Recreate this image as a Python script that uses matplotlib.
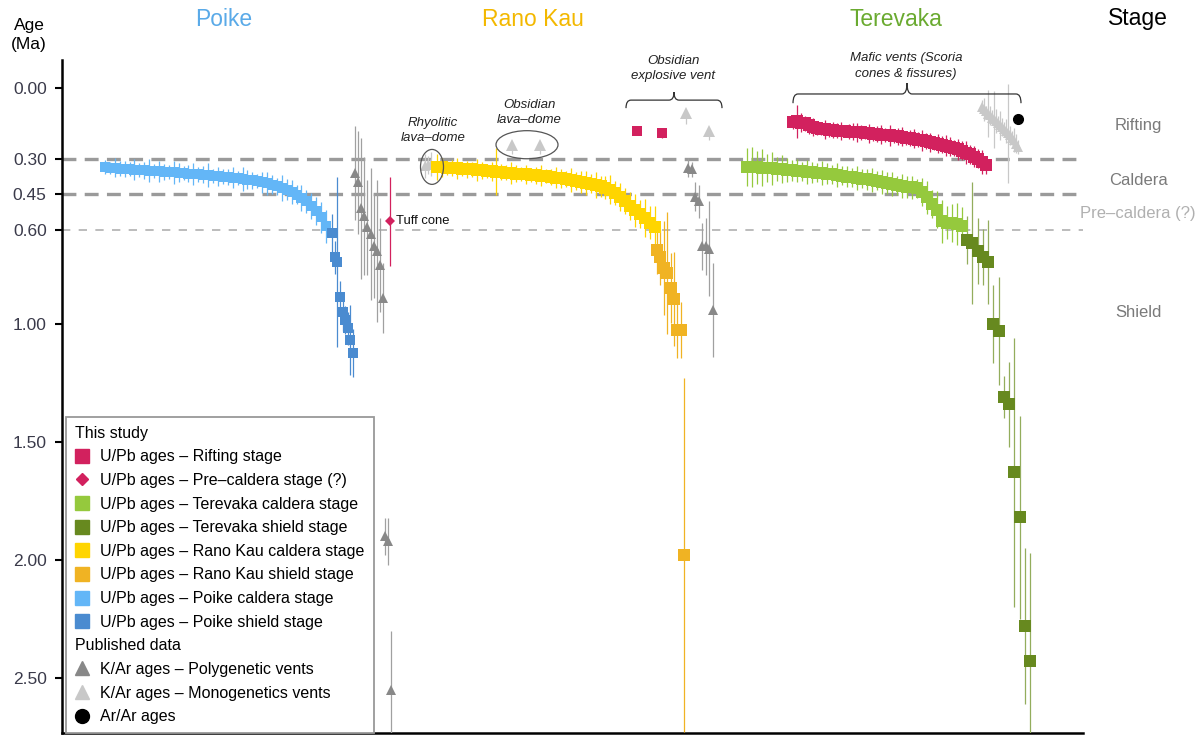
import numpy as np
import matplotlib
matplotlib.use("Agg")
import matplotlib.pyplot as plt
from matplotlib.lines import Line2D
from matplotlib.patches import Ellipse, PathPatch
from matplotlib.path import Path

plt.rcParams['font.family'] = ['Liberation Sans', 'DejaVu Sans']
plt.rcParams['lines.scale_dashes'] = False

# colours
c_rift = '#d2215e'
c_tere_cal = '#95c93d'
c_tere_sh = '#67891f'
c_rano_cal = '#ffd500'
c_rano_sh = '#f0b323'
c_poike_cal = '#63b6f7'
c_poike_sh = '#4a8bd0'
c_poly = '#888888'
c_mono = '#c8c8c8'

# ---- data (ages in Ma, errors in Ma) ----
poike_cal_age = [0.335, 0.338, 0.337, 0.341, 0.343, 0.342, 0.346, 0.347, 0.349, 0.350,
                 0.352, 0.353, 0.355, 0.356, 0.357, 0.359, 0.361, 0.362, 0.364, 0.366,
                 0.367, 0.369, 0.371, 0.373, 0.375, 0.377, 0.380, 0.382, 0.385, 0.388,
                 0.391, 0.395, 0.399, 0.404, 0.410, 0.416, 0.423, 0.431, 0.440, 0.451,
                 0.464, 0.480, 0.498, 0.520, 0.548, 0.585]
poike_cal_err = [0.03, 0.025, 0.04, 0.03, 0.035, 0.03, 0.045, 0.03, 0.035, 0.05,
                 0.03, 0.045, 0.035, 0.03, 0.05, 0.04, 0.03, 0.035, 0.045, 0.03,
                 0.035, 0.05, 0.03, 0.04, 0.03, 0.035, 0.045, 0.03, 0.05, 0.04,
                 0.035, 0.03, 0.045, 0.05, 0.04, 0.035, 0.055, 0.045, 0.05, 0.04,
                 0.055, 0.05, 0.055, 0.06, 0.065, 0.07]
poike_sh_age = [0.614, 0.716, 0.737, 0.886, 0.949, 0.983, 1.017, 1.068, 1.123]
poike_sh_err = [0.08, 0.07, 0.36, 0.07, 0.08, 0.06, 0.07, 0.15, 0.10]

poly_a_age = [0.36, 0.40, 0.51, 0.54, 0.59, 0.62, 0.67, 0.69, 0.75, 0.89]
poly_a_err = [0.20, 0.22, 0.30, 0.25, 0.20, 0.28, 0.22, 0.30, 0.20, 0.15]
poly_low_age = [1.90, 1.92, 2.55]
poly_low_err = [0.08, 0.10, 0.25]
precal_age = [0.565]
precal_err = [0.19]

rhyo_age = [0.330, 0.326, 0.322]
rhyo_err = [0.05, 0.04, 0.05]

rano_cal_age = [0.334, 0.336, 0.337, 0.339, 0.340, 0.342, 0.344, 0.345, 0.347, 0.349,
                0.350, 0.352, 0.354, 0.356, 0.358, 0.360, 0.362, 0.364, 0.366, 0.368,
                0.370, 0.372, 0.374, 0.377, 0.380, 0.383, 0.386, 0.390, 0.394, 0.398,
                0.402, 0.406, 0.411, 0.416, 0.422, 0.430, 0.445, 0.462, 0.480, 0.500,
                0.518, 0.535, 0.552, 0.570, 0.590]
rano_cal_err = [0.055, 0.04, 0.03, 0.035, 0.045, 0.03, 0.035, 0.03, 0.045, 0.035,
                0.03, 0.04, 0.10, 0.035, 0.03, 0.045, 0.035, 0.03, 0.04, 0.03,
                0.035, 0.045, 0.03, 0.035, 0.045, 0.04, 0.035, 0.05, 0.04, 0.045,
                0.05, 0.04, 0.055, 0.045, 0.05, 0.06, 0.05, 0.06, 0.055, 0.06,
                0.07, 0.06, 0.08, 0.07, 0.09]
rano_sh_age = [0.686, 0.716, 0.763, 0.784, 0.847, 0.894, 1.025, 1.025, 1.98]
rano_sh_err = [0.10, 0.12, 0.20, 0.26, 0.15, 0.20, 0.12, 0.12, 0.75]

poly_b_age = [0.337, 0.345, 0.46, 0.48, 0.67, 0.67, 0.68, 0.94]
poly_b_err = [0.04, 0.03, 0.06, 0.07, 0.10, 0.12, 0.20, 0.20]

obs_rift_age = [0.182, 0.190]
obs_rift_err = [0.01, 0.02]
obs_mono_age = [0.24, 0.24, 0.106, 0.182]
obs_mono_err = [0.04, 0.04, 0.047, 0.04]

tere_cal_age = [0.333, 0.334, 0.336, 0.337, 0.338, 0.340, 0.342, 0.344, 0.346, 0.348,
                0.350, 0.352, 0.355, 0.357, 0.359, 0.361, 0.363, 0.366, 0.368, 0.372,
                0.375, 0.378, 0.381, 0.384, 0.387, 0.390, 0.393, 0.397, 0.402, 0.407,
                0.412, 0.416, 0.419, 0.421, 0.424, 0.440, 0.462, 0.490, 0.515, 0.565,
                0.570, 0.573, 0.576, 0.584]
tere_cal_err = [0.08, 0.085, 0.07, 0.08, 0.06, 0.07, 0.05, 0.06, 0.05, 0.045,
                0.05, 0.04, 0.05, 0.045, 0.04, 0.05, 0.045, 0.04, 0.05, 0.04,
                0.045, 0.04, 0.05, 0.04, 0.045, 0.05, 0.04, 0.05, 0.045, 0.05,
                0.04, 0.05, 0.045, 0.05, 0.04, 0.06, 0.07, 0.06, 0.08, 0.09,
                0.07, 0.08, 0.09, 0.08]
tere_sh_age = [0.644, 0.657, 0.690, 0.716, 0.737, 1.00, 1.03, 1.31, 1.34, 1.627, 1.818, 2.28, 2.43]
tere_sh_err = [0.10, 0.26, 0.14, 0.12, 0.18, 0.165, 0.23, 0.09, 0.18, 0.57, 0.43, 0.33, 0.46]

rift_age = [0.144, 0.140, 0.146, 0.150, 0.158, 0.165, 0.168, 0.172, 0.175, 0.178,
            0.178, 0.180, 0.182, 0.183, 0.184, 0.185, 0.187, 0.188, 0.190, 0.191,
            0.193, 0.195, 0.197, 0.199, 0.200, 0.202, 0.205, 0.207, 0.210, 0.212,
            0.215, 0.218, 0.221, 0.225, 0.229, 0.232, 0.236, 0.240, 0.244, 0.249,
            0.254, 0.260, 0.266, 0.273, 0.281, 0.290, 0.300, 0.312, 0.326]
rift_err = [0.03, 0.07, 0.04, 0.03, 0.035, 0.04, 0.03, 0.025, 0.04, 0.03,
            0.035, 0.03, 0.04, 0.025, 0.03, 0.035, 0.04, 0.03, 0.025, 0.04,
            0.03, 0.035, 0.04, 0.03, 0.045, 0.03, 0.035, 0.04, 0.03, 0.035,
            0.04, 0.03, 0.045, 0.035, 0.04, 0.03, 0.04, 0.035, 0.045, 0.04,
            0.035, 0.045, 0.04, 0.05, 0.04, 0.045, 0.04, 0.05, 0.04]

mono_t_age = [0.080, 0.090, 0.098, 0.108, 0.115, 0.125, 0.132, 0.140, 0.150, 0.158,
              0.165, 0.175, 0.183, 0.192, 0.200, 0.210, 0.220, 0.235, 0.250]
mono_t_err = [0.03, 0.05, 0.02, 0.10, 0.04, 0.03, 0.12, 0.05, 0.03, 0.06,
              0.04, 0.03, 0.05, 0.21, 0.04, 0.03, 0.05, 0.04, 0.03]
arar_age = [0.131]

stage_ticks = [0.00, 0.30, 0.45, 0.60, 1.00, 1.50, 2.00, 2.50]
stage_names = ['Rifting', 'Caldera', 'Pre–caldera (?)', 'Shield']
stage_pos = [0.157, 0.39, 0.53, 0.95]

# ---- figure ----
fig = plt.figure(figsize=(11.98, 7.36), dpi=100)
ax = fig.add_axes([62 / 1198, 3 / 736, 1021 / 1198, 673 / 736])
ax.set_xlim(62, 1083)
ax.set_ylim(2.733, -0.119)


def pos(x0, x1, vals):
    return np.linspace(x0, x1, len(vals))


def series(x, y, err, color, marker, ms, ecolor=None, z=3, cap=1.8):
    ax.errorbar(x, y, yerr=err, fmt=marker, color=color, ms=ms, mec=color, mew=0,
                ecolor=ecolor or color, elinewidth=0.9, capsize=cap, capthick=0.9,
                zorder=z)


# stage boundaries
ax.axhline(0.30, color='#9a9a9a', lw=2.4, dashes=(10, 6), zorder=1)
ax.axhline(0.45, color='#9a9a9a', lw=2.4, dashes=(10, 6), zorder=1)
ax.axhline(0.60, color='#aaaaaa', lw=1.1, dashes=(6.0, 6.0), zorder=1)

# Poike
series(pos(105, 326, poike_cal_age), poike_cal_age, poike_cal_err, c_poike_cal, 's', 7.5)
series(pos(332, 353, poike_sh_age), poike_sh_age, poike_sh_err, c_poike_sh, 's', 7.5)
series(pos(355, 383, poly_a_age), poly_a_age, poly_a_err, c_poly, '^', 7.5, ecolor='#a0a0a0')
series(pos(385, 391, poly_low_age), poly_low_age, poly_low_err, c_poly, '^', 7.5, ecolor='#a0a0a0')
series([390], precal_age, precal_err, c_rift, 'D', 5)

# Rano Kau
series(pos(425, 431, rhyo_age), rhyo_age, rhyo_err, c_mono, '^', 7)
series(pos(437, 655, rano_cal_age), rano_cal_age, rano_cal_err, c_rano_cal, 's', 8)
series(pos(657, 684, rano_sh_age), rano_sh_age, rano_sh_err, c_rano_sh, 's', 8)
series(pos(688, 713, poly_b_age), poly_b_age, poly_b_err, c_poly, '^', 7.5, ecolor='#a0a0a0')
series(pos(637, 662, obs_rift_age), obs_rift_age, obs_rift_err, c_rift, 's', 7.5)
ax.errorbar([512, 540, 686, 709], obs_mono_age, yerr=[[0] * 4, obs_mono_err], fmt='^',
            color=c_mono, ms=8, mew=0, ecolor=c_mono, elinewidth=0.9, capsize=10,
            capthick=1.0, zorder=3)

# Terevaka
series(pos(747, 962, tere_cal_age), tere_cal_age, tere_cal_err, c_tere_cal, 's', 9, cap=2.5)
series(pos(967, 1030, tere_sh_age), tere_sh_age, tere_sh_err, c_tere_sh, 's', 8.5,
       ecolor='#93ad5c', cap=2.5)
series(pos(793, 986, rift_age), rift_age, rift_err, c_rift, 's', 8.5, cap=1.2)
series(pos(982, 1018, mono_t_age), mono_t_age, mono_t_err, c_mono, '^', 7, cap=1.2)
ax.plot([1018], arar_age, 'o', color='black', ms=7, zorder=4)

# ellipses around lava domes
ax.add_patch(Ellipse((432, 0.334), 23, 0.148, fill=False, ec='#555555', lw=0.9, zorder=4))
ax.add_patch(Ellipse((527, 0.24), 62, 0.119, fill=False, ec='#555555', lw=0.9, zorder=4))


def brace(x0, x1, yb, yl, yt, r=5):
    xm = (x0 + x1) / 2
    verts = [(x0, yb), (x0, yl), (x0 + r, yl), (xm - r, yl), (xm, yl), (xm, yt),
             (xm, yl), (xm + r, yl), (x1 - r, yl), (x1, yl), (x1, yb)]
    codes = [Path.MOVETO, Path.CURVE3, Path.CURVE3, Path.LINETO, Path.CURVE3, Path.CURVE3,
             Path.CURVE3, Path.CURVE3, Path.LINETO, Path.CURVE3, Path.CURVE3]
    ax.add_patch(PathPatch(Path(verts, codes), fill=False, ec='#333333', lw=0.9,
                           clip_on=False, zorder=4))


brace(626, 722, 0.085, 0.051, 0.017)
brace(793, 1021, 0.064, 0.025, -0.021)

note = dict(style='italic', fontsize=9.5, color='#222222', ha='center', va='center',
            linespacing=1.4)
ax.text(433, 0.18, 'Rhyolitic\nlava–dome', **note)
ax.text(529, 0.104, 'Obsidian\nlava–dome', **note)
ax.text(673, -0.083, 'Obsidian\nexplosive vent', **note)
ax.text(906, -0.093, 'Mafic vents (Scoria\ncones & fissures)', **note)
ax.text(396, 0.564, 'Tuff cone', fontsize=9.4, color='#111111', ha='left', va='center')

# stage column
for name, y in zip(stage_names, stage_pos):
    col = '#b0b0b0' if name.startswith('Pre') else '#7a7a7a'
    ax.text(1138, y, name, fontsize=12, color=col, ha='center', va='center', clip_on=False)

fig.text(224 / 1198, 1 - 19 / 736, 'Poike', fontsize=16.5, color='#5aaae8', ha='center', va='center')
fig.text(533 / 1198, 1 - 19 / 736, 'Rano Kau', fontsize=16.5, color='#f3b800', ha='center', va='center')
fig.text(896 / 1198, 1 - 19 / 736, 'Terevaka', fontsize=16.5, color='#6aaa30', ha='center', va='center')
fig.text(1138 / 1198, 1 - 19 / 736, 'Stage', fontsize=16.5, color='black', ha='center', va='center')
fig.text(29 / 1198, 1 - 35 / 736, 'Age\n(Ma)', fontsize=12.5, color='black', ha='center', va='center',
         linespacing=1.3)

# axes styling
for s in ['top', 'right']:
    ax.spines[s].set_visible(False)
for s in ['left', 'bottom']:
    ax.spines[s].set_linewidth(1.8)
ax.set_xticks([])
ax.set_yticks(stage_ticks)
ax.set_yticklabels(['%.2f' % t for t in stage_ticks])
ax.tick_params(axis='y', length=5, width=1.5, pad=6, labelsize=12.5, labelcolor='#3a3a4a')

# legend
def H(**kw):
    return Line2D([], [], ls='none', **kw)


handles = [H(), H(marker='s', color=c_rift, ms=10), H(marker='D', color=c_rift, ms=6.5),
           H(marker='s', color=c_tere_cal, ms=10), H(marker='s', color=c_tere_sh, ms=10),
           H(marker='s', color=c_rano_cal, ms=10), H(marker='s', color=c_rano_sh, ms=10),
           H(marker='s', color=c_poike_cal, ms=10), H(marker='s', color=c_poike_sh, ms=10),
           H(), H(marker='^', color=c_poly, ms=10), H(marker='^', color=c_mono, ms=10),
           H(marker='o', color='black', ms=10)]
labels = ['This study', 'U/Pb ages – Rifting stage', 'U/Pb ages – Pre–caldera stage (?)',
          'U/Pb ages – Terevaka caldera stage', 'U/Pb ages – Terevaka shield stage',
          'U/Pb ages – Rano Kau caldera stage', 'U/Pb ages – Rano Kau shield stage',
          'U/Pb ages – Poike caldera stage', 'U/Pb ages – Poike shield stage',
          'Published data', 'K/Ar ages – Polygenetic vents', 'K/Ar ages – Monogenetics vents',
          'Ar/Ar ages']
headers = ['This study', 'Published data']
lfs = 11.5
leg = ax.legend(handles, labels, loc='lower left', bbox_to_anchor=(0.004, 0.0),
                borderaxespad=0, fontsize=lfs, frameon=True, fancybox=False,
                edgecolor='#999999', framealpha=1, handlelength=0.9, handletextpad=0.7,
                borderpad=0.55, labelspacing=0.54)
leg.get_frame().set_linewidth(1.3)
for t in leg.get_texts():
    if t.get_text() in headers:
        t.set_position((-(0.9 + 0.7) * lfs * 100 / 72, 0))

fig.savefig('out.png', dpi=100)
